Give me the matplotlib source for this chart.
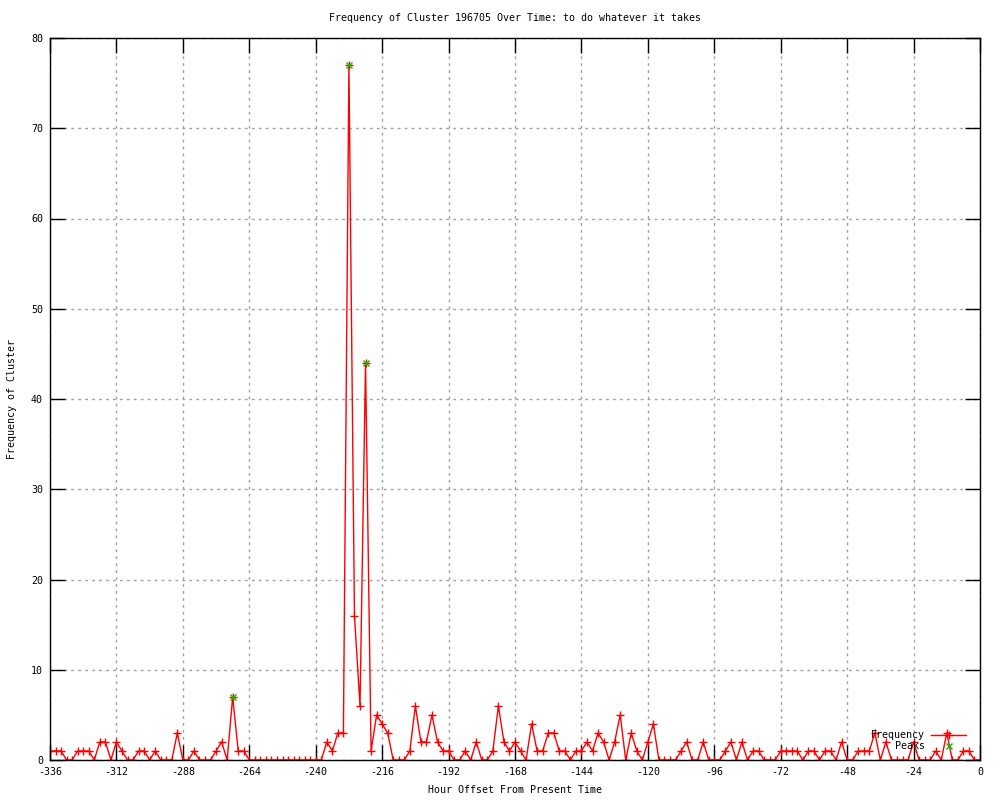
import numpy as np
import matplotlib
matplotlib.use('Agg')
import matplotlib.pyplot as plt

# hour offsets, one sample every 2 hours
hours = np.arange(-336, 1, 2)
freq = [1, 1, 1, 0, 0, 1, 1, 1, 0, 2, 2, 0, 2, 1, 0, 0, 1, 1, 0, 1,
        0, 0, 0, 3, 0, 0, 1, 0, 0, 0, 1, 2, 0, 7, 1, 1, 0, 0, 0, 0,
        0, 0, 0, 0, 0, 0, 0, 0, 0, 0, 2, 1, 3, 3, 77, 16, 6, 44, 1, 5,
        4, 3, 0, 0, 0, 1, 6, 2, 2, 5, 2, 1, 1, 0, 0, 1, 0, 2, 0, 0,
        1, 6, 2, 1, 2, 1, 0, 4, 1, 1, 3, 3, 1, 1, 0, 1, 1, 2, 1, 3,
        2, 0, 2, 5, 0, 3, 1, 0, 2, 4, 0, 0, 0, 0, 1, 2, 0, 0, 2, 0,
        0, 0, 1, 2, 0, 2, 0, 1, 1, 0, 0, 0, 1, 1, 1, 1, 0, 1, 1, 0,
        1, 1, 0, 2, 0, 0, 1, 1, 1, 3, 0, 2, 0, 0, 0, 0, 2, 0, 0, 0,
        1, 0, 3, 0, 0, 1, 1, 0, 0]
peak_hours = [-270, -228, -222]
peak_vals = [7, 77, 44]

xticks = np.arange(-336, 1, 24)
yticks = np.arange(0, 81, 10)

font = {'family': 'DejaVu Sans Mono', 'size': 7.2}

fig = plt.figure(figsize=(10, 8), dpi=100)
ax = fig.add_axes([0.05, 0.05, 0.93, 0.9025])

ax.plot(hours, freq, color='red', lw=1, marker='+', ms=6, mew=1, label='Frequency')
ax.plot(peak_hours, peak_vals, ls='none', color='#00c000', marker='x', ms=5, mew=1, label='Peaks')

ax.set_xlim(-336, 0)
ax.set_ylim(0, 80)
ax.set_xticks(xticks)
ax.set_yticks(yticks)
ax.set_xticklabels([str(t) for t in xticks], **font)
ax.set_yticklabels([str(t) for t in yticks], **font)
ax.tick_params(direction='in', length=11, width=1, top=True, right=True, pad=5)
ax.grid(True, color='#a0a0a0', ls=(0, (2, 3)), lw=1)
for s in ax.spines.values():
    s.set_linewidth(1)

ax.set_title('Frequency of Cluster 196705 Over Time: to do whatever it takes', pad=12, **font)
ax.set_xlabel('Hour Offset From Present Time', labelpad=6, **font)
ax.set_ylabel('Frequency of Cluster', labelpad=10, **font)

leg = ax.legend(loc='lower right', frameon=False, markerfirst=False, prop=font,
                handlelength=3.5, handletextpad=0.6, labelspacing=0.1,
                bbox_to_anchor=(0.995, 0.0))

plt.savefig('out.png')
